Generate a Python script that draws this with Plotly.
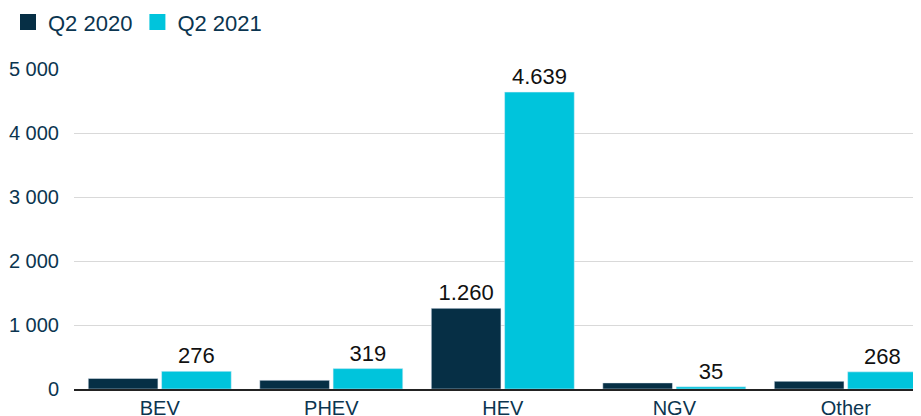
import plotly.graph_objects as go


##############################################################
# Data
##############################################################

categories = ["BEV", "PHEV", "HEV", "NGV", "Other"]

q2_2020 = [165, 135, 1260, 95, 120]
q2_2021 = [276, 319, 4639, 35, 268]

# labels as printed on the chart (only some bars are labelled)
labels_2020 = ["", "", "1.260", "", ""]
labels_2021 = ["276", "319", "4.639", "35", "268"]

y_ticks = [0, 1000, 2000, 3000, 4000, 5000]

DARK = "#062f45"
CYAN = "#00c4dc"
TEXT = "#0b3550"
FONT = "Liberation Sans, Arial, sans-serif"


##############################################################
# Figure
##############################################################

fig = go.Figure()

fig.add_trace(
    go.Bar(
        x=categories,
        y=q2_2020,
        name="Q2 2020",
        marker_color=DARK,
        text=labels_2020,
        textposition="outside",
        textfont=dict(color="#111111", size=22),
        cliponaxis=False,
        showlegend=False
    )
)

fig.add_trace(
    go.Bar(
        x=categories,
        y=q2_2021,
        name="Q2 2021",
        marker_color=CYAN,
        text=labels_2021,
        textposition="outside",
        textfont=dict(color="#111111", size=22),
        cliponaxis=False,
        showlegend=False
    )
)

# legend entries with larger square swatches
for name, color in [("Q2 2020", DARK), ("Q2 2021", CYAN)]:
    fig.add_trace(
        go.Scatter(
            x=[None],
            y=[None],
            mode="markers",
            name=name,
            marker=dict(symbol="square", size=18, color=color)
        )
    )

# page body adds an 8px offset, margins account for it
fig.update_layout(
    width=921,
    height=416,
    margin=dict(l=66, r=0, t=61, b=35),
    paper_bgcolor="white",
    plot_bgcolor="white",
    font=dict(family=FONT, size=20, color=TEXT),
    separators=". ",
    barmode="group",
    bargap=0.145,
    bargroupgap=0.05,
    legend=dict(
        orientation="h",
        xref="container",
        yref="container",
        x=-0.009,
        y=0.966,
        xanchor="left",
        yanchor="middle",
        font=dict(size=22, color=TEXT),
        itemwidth=30,
        tracegroupgap=0
    )
)

fig.update_xaxes(
    range=[-0.5, 4.485],
    showline=True,
    linecolor="#222222",
    linewidth=1.5,
    ticks="",
    showgrid=False,
    automargin=False,
    tickfont=dict(size=20, color=TEXT)
)

fig.update_yaxes(
    range=[0, 5000],
    tickvals=y_ticks,
    tickformat=",d",
    showgrid=True,
    gridcolor="#d9d9d9",
    gridwidth=1,
    zeroline=False,
    automargin=False,
    ticklabelstandoff=14,
    tickfont=dict(size=20, color=TEXT)
)

fig.write_html("out.html")
